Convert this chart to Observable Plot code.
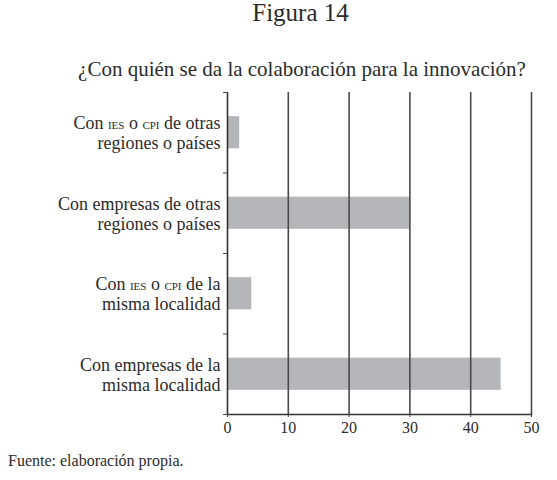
<!DOCTYPE html>
<html><head><meta charset="utf-8">
<script src="https://cdn.jsdelivr.net/npm/d3@7"></script>
<script src="https://cdn.jsdelivr.net/npm/@observablehq/plot@0.6"></script>
<style>
body{margin:0;background:#fff;width:557px;height:480px;position:relative;overflow:hidden;font-family:"Liberation Serif",serif;color:#2b2b2b;}
#title{position:absolute;left:0;width:601px;top:-1px;text-align:center;font-size:25px;line-height:28px;}
#subtitle{position:absolute;left:0;width:604px;top:57px;text-align:center;font-size:21px;line-height:24px;}
#chart{position:absolute;left:0;top:85px;}
#caption{position:absolute;left:8px;top:452px;font-size:16px;line-height:18px;}
</style></head>
<body>
<div id="title">Figura 14</div>
<div id="subtitle">¿Con quién se da la colaboración para la innovación?</div>
<div id="chart"></div>
<div id="caption">Fuente: elaboración propia.</div>
<script>
const categories = [
  "Con IES o CPI de otras\nregiones o países",
  "Con empresas de otras\nregiones o países",
  "Con IES o CPI de la\nmisma localidad",
  "Con empresas de la\nmisma localidad"
];
const values = [2, 30, 4, 45];
const xTicks = [0, 10, 20, 30, 40, 50];

const rows = categories.map((label, i) => ({label, value: values[i], i}));
const boundaries = d3.range(categories.length + 1);

const svg = Plot.plot({
  width: 557,
  height: 355,
  marginTop: 7,
  marginBottom: 26,
  marginLeft: 227,
  marginRight: 26,
  style: {fontFamily: "Liberation Serif, serif", fontSize: "16px", color: "#2b2b2b", background: "transparent"},
  x: {domain: [0, 50]},
  y: {domain: [0, categories.length], reverse: true},
  marks: [
    Plot.rectX(rows, {x1: d => 0, x2: d => d.value, y1: d => d.i + 0.3, y2: d => d.i + 0.7, fill: "#b5b6b9"}),
    Plot.ruleX(xTicks.filter(v => v > 0), {stroke: "#4a4a4a", strokeWidth: 1.6}),
    Plot.ruleX([0], {stroke: "#333", strokeWidth: 1.6}),
    Plot.frame({anchor: "bottom", stroke: "#333", strokeWidth: 1.6}),
    Plot.axisX({ticks: xTicks, tickSize: 3, tickPadding: 4, stroke: "#444", fill: "#2b2b2b", fontSize: 16, label: null}),
    Plot.axisY({ticks: boundaries, tickSize: 4, tickFormat: () => "", stroke: "#444", label: null}),
    Plot.text(rows, {x: d => 0, y: d => d.i + 0.5, text: "label", textAnchor: "end", dx: -7, lineHeight: 1.12, fontSize: 18, fill: "#2b2b2b"})
  ]
});

// small caps for the acronyms IES and CPI
const walker = document.createTreeWalker(svg, NodeFilter.SHOW_TEXT);
const nodes = [];
while (walker.nextNode()) if (/IES|CPI/.test(walker.currentNode.data)) nodes.push(walker.currentNode);
for (const node of nodes) {
  const frag = document.createDocumentFragment();
  for (const part of node.data.split(/(IES|CPI)/)) {
    if (!part) continue;
    if (part === "IES" || part === "CPI") {
      const t = document.createElementNS("http://www.w3.org/2000/svg", "tspan");
      t.setAttribute("font-size", "11");
      t.textContent = part;
      frag.appendChild(t);
    } else {
      frag.appendChild(document.createTextNode(part));
    }
  }
  node.parentNode.replaceChild(frag, node);
}

document.getElementById("chart").appendChild(svg);
</script>
</body></html>
